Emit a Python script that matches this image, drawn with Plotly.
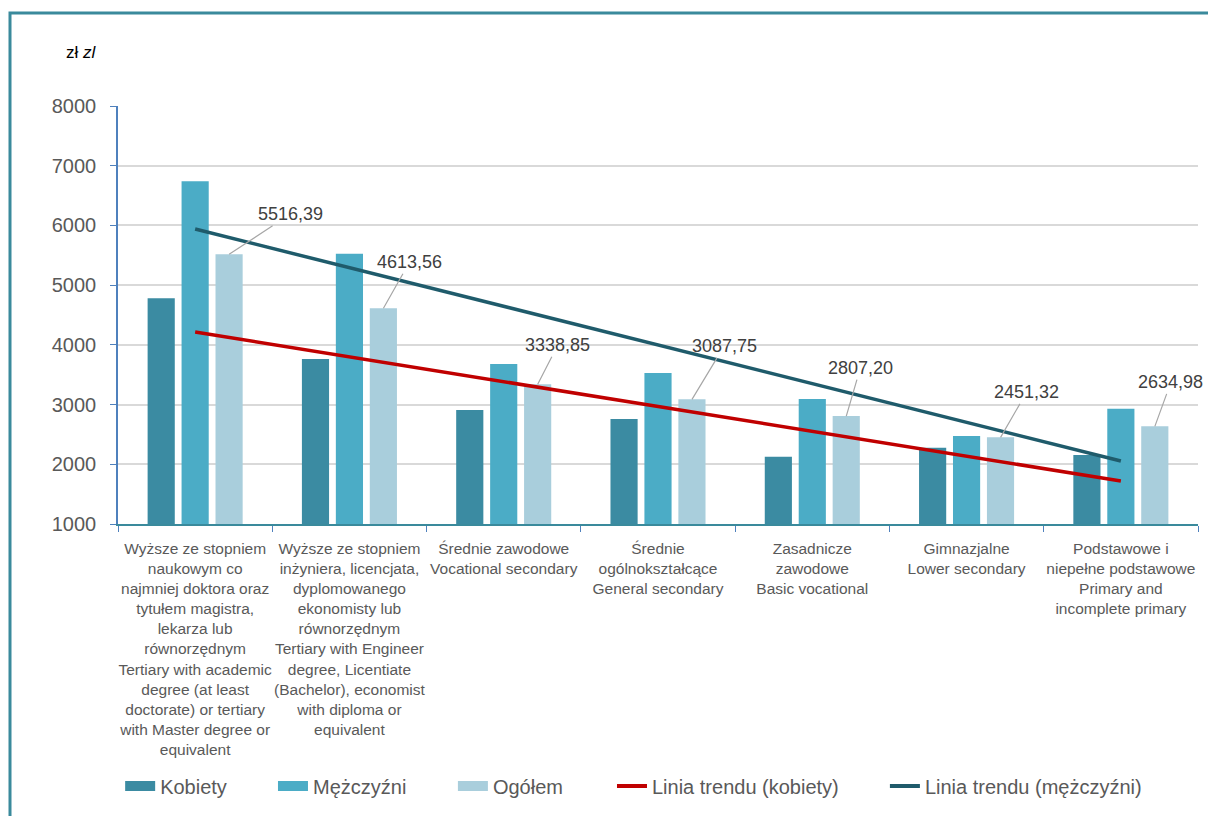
import plotly.graph_objects as go

# # Data (zł)
categories = [
    "Wyższe ze stopniem<br>naukowym co<br>najmniej doktora oraz<br>tytułem magistra,<br>lekarza lub<br>równorzędnym<br>Tertiary with academic<br>degree (at least<br>doctorate) or tertiary<br>with Master degree or<br>equivalent",
    "Wyższe ze stopniem<br>inżyniera, licencjata,<br>dyplomowanego<br>ekonomisty lub<br>równorzędnym<br>Tertiary with Engineer<br>degree, Licentiate<br>(Bachelor), economist<br>with diploma or<br>equivalent",
    "Średnie zawodowe<br>Vocational secondary",
    "Średnie<br>ogólnokształcące<br>General secondary",
    "Zasadnicze<br>zawodowe<br>Basic vocational",
    "Gimnazjalne<br>Lower secondary",
    "Podstawowe i<br>niepełne podstawowe<br>Primary and<br>incomplete primary",
]
kobiety = [4780, 3765, 2910, 2760, 2125, 2275, 2155]
mezczyzni = [6740, 5525, 3680, 3530, 3095, 2475, 2930]
ogolem = [5516.39, 4613.56, 3338.85, 3087.75, 2807.20, 2451.32, 2634.98]
ogolem_labels = ["5516,39", "4613,56", "3338,85", "3087,75", "2807,20", "2451,32", "2634,98"]

# trend line end points (first and last category)
trend_x = [categories[0], categories[-1]]
trend_kobiety = [4215, 1720]
trend_mezczyzni = [5940, 2055]

# label offsets (px) from the top of each Ogółem bar
label_dx = [61, 26, 20, 32, 14, 26, 16]
label_dy = [-40, -46, -39, -53, -48, -45, -44]

C_K = "#3B8BA2"
C_M = "#4BACC6"
C_O = "#A9CEDC"
C_TK = "#C00000"
C_TM = "#1F5B6B"
FONT = "Liberation Sans, Arial, sans-serif"
GREY = "#595959"

fig = go.Figure()

# # Bars
for name, vals, col in [("Kobiety", kobiety, C_K),
                        ("Mężczyźni", mezczyzni, C_M),
                        ("Ogółem", ogolem, C_O)]:
    fig.add_trace(go.Bar(x=categories, y=vals, name=name,
                         marker=dict(color=col, line=dict(width=0)),
                         showlegend=False))

# # Trend lines
fig.add_trace(go.Scatter(x=trend_x, y=trend_kobiety, mode="lines",
                         line=dict(color=C_TK, width=3.5), showlegend=False))
fig.add_trace(go.Scatter(x=trend_x, y=trend_mezczyzni, mode="lines",
                         line=dict(color=C_TM, width=3.5), showlegend=False))

# # Legend entries, one small legend each so they can be spaced like the original
legend_items = [("Kobiety", C_K, 16), ("Mężczyźni", C_M, 16), ("Ogółem", C_O, 16),
                ("Linia trendu (kobiety)", C_TK, 4),
                ("Linia trendu (mężczyźni)", C_TM, 4)]
legend_x = [0.002, 0.1435, 0.3101, 0.4574, 0.7101]
legend_layout = {}
for i, ((name, col, w), lx) in enumerate(zip(legend_items, legend_x)):
    key = "legend" if i == 0 else "legend%d" % (i + 1)
    fig.add_trace(go.Scatter(x=[categories[0]], y=[None], mode="lines", name=name,
                             line=dict(color=col, width=w), legend=key))
    legend_layout[key] = dict(x=lx, y=-0.627, yanchor="middle", xanchor="left",
                              bgcolor="rgba(0,0,0,0)",
                              font=dict(family=FONT, size=20, color=GREY))

# # Data labels for Ogółem with leader lines
for cat, v, lab, dx, dy in zip(categories, ogolem, ogolem_labels, label_dx, label_dy):
    fig.add_annotation(x=cat, y=v, xref="x", yref="y", text=lab,
                       xshift=34, showarrow=True, arrowhead=0, arrowwidth=1.2,
                       arrowcolor="#A6A6A6", ax=dx, ay=dy, standoff=0,
                       font=dict(family=FONT, size=18, color="#404040"))

fig.add_annotation(x=-0.034, y=1.129, xref="paper", yref="paper",
                   xanchor="center", yanchor="middle",
                   text="zł <i>zl</i>", showarrow=False,
                   font=dict(family=FONT, size=17, color="black"))

# frame around the chart
fig.add_shape(type="rect", xref="paper", yref="paper",
              x0=-0.1, x1=1.03, y0=-0.9, y1=1.2225,
              line=dict(color="#3A8A9C", width=3), layer="below")

fig.update_layout(
    width=1208, height=816,
    margin=dict(l=118, r=10, t=106, b=292),
    paper_bgcolor="white", plot_bgcolor="white",
    barmode="group", bargap=0.34, bargroupgap=0.2,
    font=dict(family=FONT, color=GREY),
    **legend_layout,
)
fig.update_xaxes(range=[-0.5, 6.5], showline=True, linecolor="#3A8A9C", linewidth=2,
                 ticks="outside", tickson="boundaries", ticklen=6,
                 tickcolor="#4F81BD", tickangle=0, ticklabelstandoff=9,
                 tickfont=dict(family=FONT, size=15.5, color=GREY))
fig.update_yaxes(range=[1000, 8000], dtick=1000, showline=True,
                 linecolor="#4F81BD", linewidth=1.5, ticks="outside",
                 ticklen=6, tickcolor="#4F81BD", ticklabelstandoff=10,
                 showgrid=True, gridcolor="#D9D9D9", gridwidth=1.5,
                 tickfont=dict(family=FONT, size=20, color=GREY))

# page has a default 8px body margin; drop it so the figure fills the window
fig.write_html("out.html", config={"displayModeBar": False},
               post_script="document.body.style.margin='0';document.body.style.overflow='hidden';")
